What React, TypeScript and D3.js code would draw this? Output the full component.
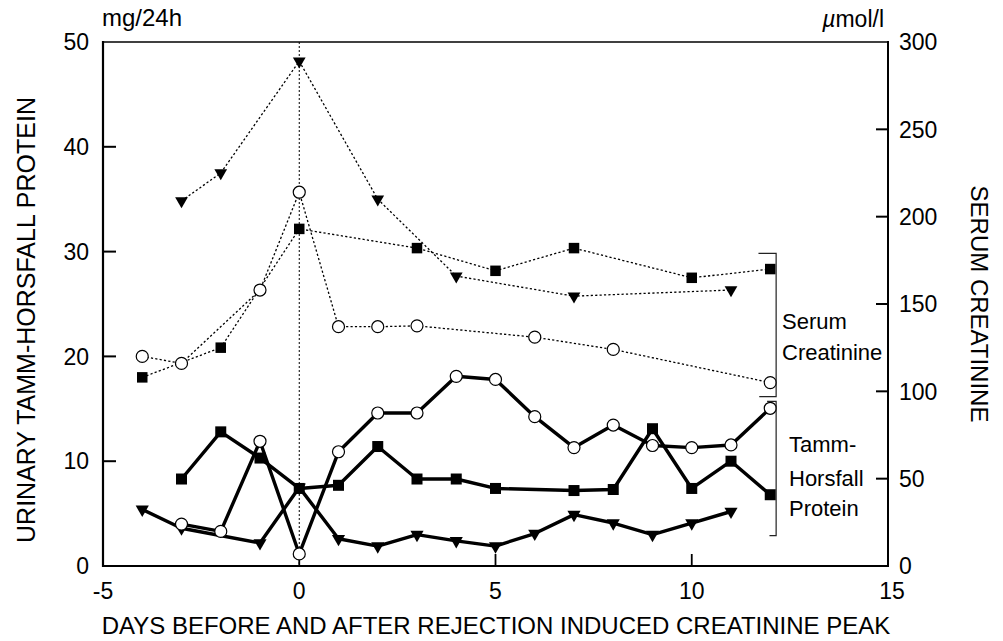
import React from "react";
import * as d3 from "d3";

// ---- Data ----
const xTicks = [-5, 0, 5, 10, 15];
const leftTicks = [0, 10, 20, 30, 40, 50];
const rightTicks = [0, 50, 100, 150, 200, 250, 300];

// Urinary Tamm-Horsfall protein (mg/24h, left axis) – solid lines
const thpCircleDays = [-3, -2, -1, 0, 1, 2, 3, 4, 5, 6, 7, 8, 9, 10, 11, 12];
const thpCircleValues = [4.0, 3.3, 11.9, 1.15, 10.9, 14.6, 14.6, 18.1, 17.8, 14.25, 11.3, 13.45, 11.5, 11.3, 11.55, 15.05];
const thpSquareDays = [-3, -2, -1, 0, 1, 2, 3, 4, 5, 7, 8, 9, 10, 11, 12];
const thpSquareValues = [8.3, 12.8, 10.3, 7.4, 7.7, 11.4, 8.3, 8.3, 7.4, 7.2, 7.3, 13.1, 7.4, 10.0, 6.8];
const thpTriangleDays = [-4, -3, -1, 0, 1, 2, 3, 4, 5, 6, 7, 8, 9, 10, 11];
const thpTriangleValues = [5.4, 3.6, 2.2, 7.5, 2.6, 1.9, 3.0, 2.4, 1.9, 3.1, 4.9, 4.1, 3.0, 4.1, 5.2];

// Serum creatinine (µmol/l, right axis) – dotted lines
const scCircleDays = [-4, -3, -1, 0, 1, 2, 3, 6, 8, 12];
const scCircleValues = [120, 116, 158, 214, 137, 137, 137.5, 131, 124, 105];
const scSquareDays = [-4, -2, 0, 3, 5, 7, 10, 12];
const scSquareValues = [108, 125, 193, 182, 169, 182, 165, 170];
const scTriangleDays = [-3, -2, 0, 2, 4, 7, 11];
const scTriangleValues = [209, 225, 289, 210, 166, 154.5, 158];

// ---- Layout ----
const W = 1003, H = 641;
const L = 103, R = 888, T = 42, B = 566;
const FONT = "Arial, 'Liberation Sans', Helvetica, sans-serif";

const x = d3.scaleLinear().domain([-5, 15]).range([L, R]);
const yL = d3.scaleLinear().domain([0, 50]).range([B, T]);
const yR = d3.scaleLinear().domain([0, 300]).range([B, T]);

type Pt = [number, number];
const zip = (a: number[], b: number[]): Pt[] => a.map((d, i) => [d, b[i]]);

function Series({ days, values, y, solid }: { days: number[]; values: number[]; y: d3.ScaleLinear<number, number>; solid: boolean }) {
  const pts = zip(days, values);
  const line = d3.line<Pt>().x((d) => x(d[0])).y((d) => y(d[1]));
  return (
    <path d={line(pts) || ""} fill="none" stroke="#000"
      strokeWidth={solid ? 3.4 : 1.3}
      strokeDasharray={solid ? undefined : "2.2,2.2"}
      strokeLinejoin="round" />
  );
}

function Markers({ days, values, y, marker, solid }: { days: number[]; values: number[]; y: d3.ScaleLinear<number, number>; marker: "circle" | "square" | "triangle"; solid: boolean }) {
  const pts = zip(days, values);
  const tri = d3.symbol().type(d3.symbolTriangle).size(solid ? 75 : 70)();
  return (
    <g>
      {pts.map((d, i) => {
        const cx = x(d[0]), cy = y(d[1]);
        if (marker === "circle")
          return <circle key={i} cx={cx} cy={cy} r={6} fill="#fff" stroke="#000" strokeWidth={1.2} />;
        if (marker === "square") {
          const s = solid ? 11 : 10.5;
          return <rect key={i} x={cx - s / 2} y={cy - s / 2} width={s} height={s} fill="#000" />;
        }
        return <path key={i} d={tri || ""} transform={`translate(${cx},${cy}) rotate(180)`} fill="#000" />;
      })}
    </g>
  );
}

export default function App() {
  const bx = x(12.15);
  return (
    <svg width={W} height={H} style={{ position: "absolute", left: 0, top: 0, background: "#fff" }} fontFamily={FONT}>
      <rect width={W} height={H} fill="#fff" />
      {/* frame */}
      <line x1={L} y1={T} x2={R} y2={T} stroke="#000" strokeWidth={1.5} />
      <line x1={L} y1={T - 1} x2={L} y2={B + 1} stroke="#000" strokeWidth={2.2} />
      <line x1={R} y1={T - 1} x2={R} y2={B + 1} stroke="#000" strokeWidth={2} />
      <line x1={L - 1} y1={B} x2={R + 1} y2={B} stroke="#000" strokeWidth={2.2} />

      {/* inner ticks */}
      {leftTicks.filter((t) => t > 0 && t < 50).map((t) => (
        <line key={"lt" + t} x1={L} x2={L + 13} y1={yL(t)} y2={yL(t)} stroke="#000" strokeWidth={2} />
      ))}
      {rightTicks.filter((t) => t > 0 && t < 300).map((t) => (
        <line key={"rt" + t} x1={R} x2={R - 12} y1={yR(t)} y2={yR(t)} stroke="#000" strokeWidth={2} />
      ))}
      {xTicks.filter((t) => t > -5 && t < 15).map((t) => (
        <line key={"xt" + t} x1={x(t)} x2={x(t)} y1={B} y2={B - 12} stroke="#000" strokeWidth={1.8} />
      ))}

      {/* day-0 reference line */}
      <line x1={x(0)} x2={x(0)} y1={T} y2={B} stroke="#000" strokeWidth={1} strokeDasharray="2,2" />

      {/* tick labels */}
      {leftTicks.map((t) => (
        <text key={"ll" + t} x={89} y={yL(t)} dy="0.36em" textAnchor="end" fontSize={23}>{t}</text>
      ))}
      {rightTicks.map((t) => (
        <text key={"rl" + t} x={899} y={yR(t)} dy="0.36em" textAnchor="start" fontSize={23}>{t}</text>
      ))}
      {xTicks.map((t) => (
        <text key={"xl" + t} x={x(t) + (t === 15 ? 4 : 0)} y={599} textAnchor="middle" fontSize={23}>{t}</text>
      ))}

      {/* units and titles */}
      <text x={102} y={26} fontSize={24}>mg/24h</text>
      <text x={884} y={27} fontSize={23} textAnchor="end"><tspan fontStyle="italic">µ</tspan>mol/l</text>
      <text x={496} y={634} fontSize={24} textAnchor="middle">DAYS BEFORE AND AFTER REJECTION INDUCED CREATININE PEAK</text>
      <text transform={`translate(35,${320}) rotate(-90)`} fontSize={25} textAnchor="middle">URINARY TAMM-HORSFALL PROTEIN</text>
      <text transform={`translate(971,${304}) rotate(90)`} fontSize={24} textAnchor="middle">SERUM CREATININE</text>

      {/* lines */}
      <Series days={scTriangleDays} values={scTriangleValues} y={yR} solid={false} />
      <Series days={scSquareDays} values={scSquareValues} y={yR} solid={false} />
      <Series days={scCircleDays} values={scCircleValues} y={yR} solid={false} />
      <Series days={thpTriangleDays} values={thpTriangleValues} y={yL} solid={true} />
      <Series days={thpSquareDays} values={thpSquareValues} y={yL} solid={true} />
      <Series days={thpCircleDays} values={thpCircleValues} y={yL} solid={true} />

      {/* markers */}
      <Markers days={scTriangleDays} values={scTriangleValues} y={yR} marker="triangle" solid={false} />
      <Markers days={scSquareDays} values={scSquareValues} y={yR} marker="square" solid={false} />
      <Markers days={scCircleDays} values={scCircleValues} y={yR} marker="circle" solid={false} />
      <Markers days={thpTriangleDays} values={thpTriangleValues} y={yL} marker="triangle" solid={true} />
      <Markers days={thpSquareDays} values={thpSquareValues} y={yL} marker="square" solid={true} />
      <Markers days={thpCircleDays} values={thpCircleValues} y={yL} marker="circle" solid={true} />

      {/* brackets */}
      <path d={`M${x(11.7)},${yR(179)} H${bx} V${yR(97)} H${x(11.72)}`} fill="none" stroke="#222" strokeWidth={1.2} />
      <path d={`M${x(11.92)},${yL(15.7)} H${bx} V${yL(2.9)} H${x(11.98)}`} fill="none" stroke="#222" strokeWidth={1.2} />
      <text x={782} y={329} fontSize={22}>Serum</text>
      <text x={782} y={360} fontSize={22}>Creatinine</text>
      <text x={789} y={452} fontSize={22}>Tamm-</text>
      <text x={789} y={486} fontSize={22}>Horsfall</text>
      <text x={789} y={516} fontSize={22}>Protein</text>
    </svg>
  );
}
